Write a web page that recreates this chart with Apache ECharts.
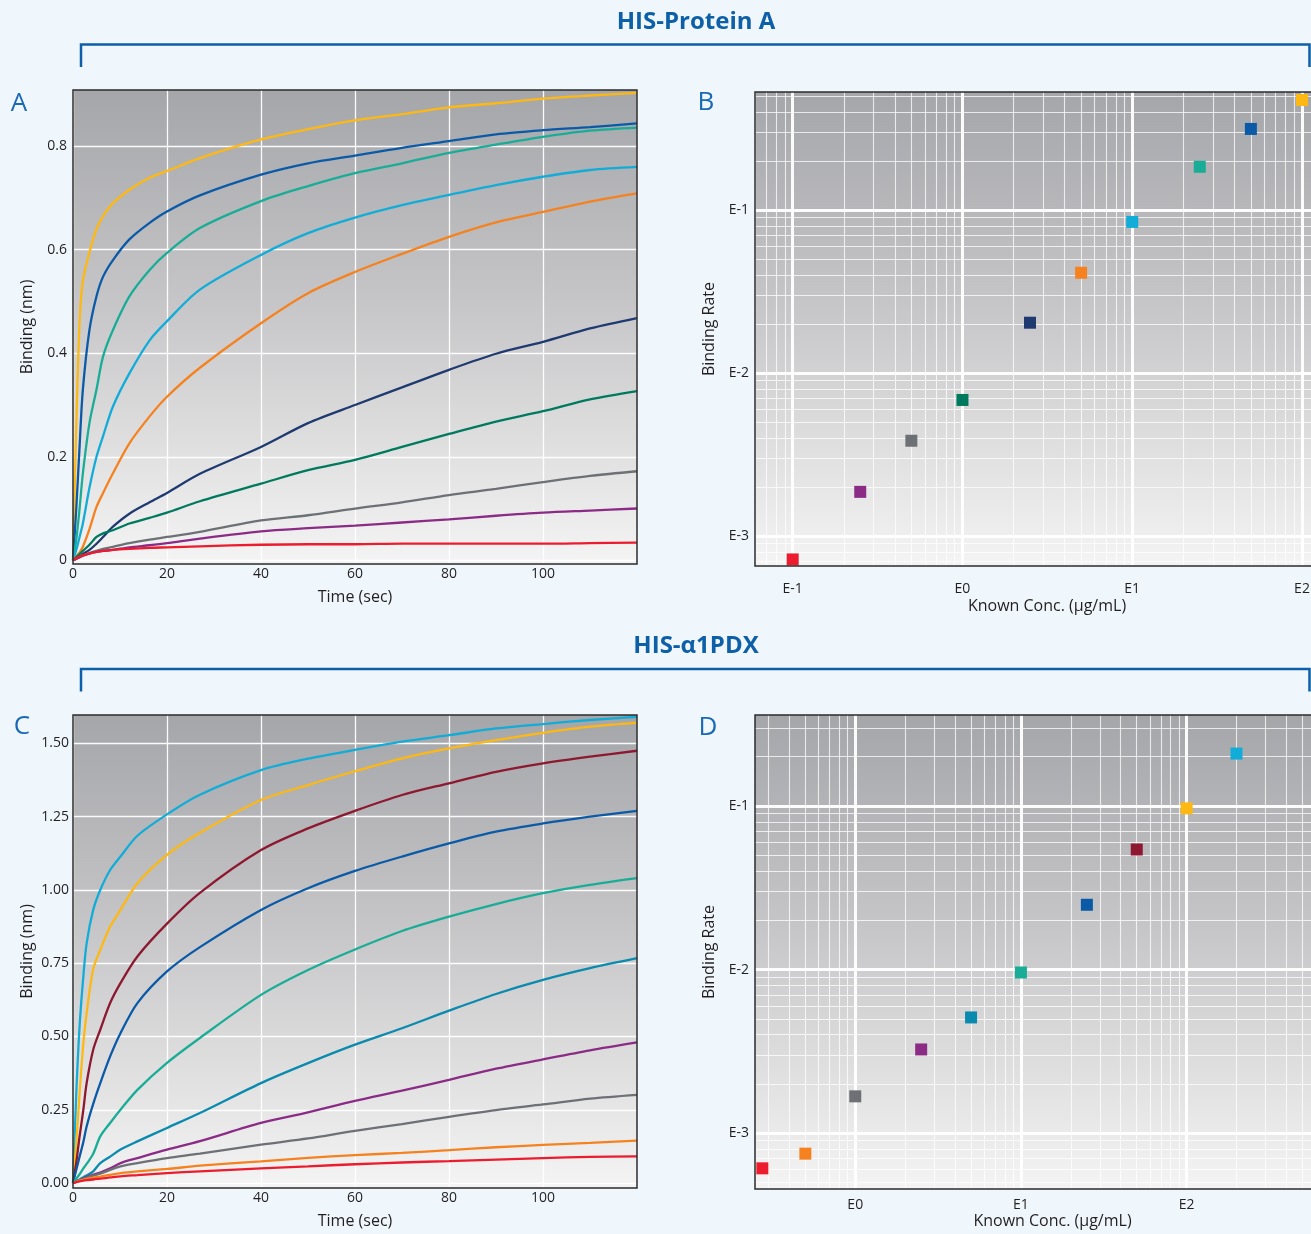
<!DOCTYPE html>
<html><head><meta charset="utf-8">
<style>html,body{margin:0;padding:0;background:#eff7fd;} #c{width:1311px;height:1234px;}</style>
<script src="https://cdn.jsdelivr.net/npm/echarts@6/dist/echarts.min.js"></script>
</head><body><div id="c"></div>
<script>
// ---------- DATA ----------
// Panel A (HIS-Protein A) association curves
const timeA = [0, 0.7, 1.4, 2.1, 3.5, 5, 6.4, 8.5, 12, 16.3, 20, 27, 40, 50, 60, 70, 80, 90, 100, 110, 120];
const yellowA = [0, 0.26, 0.46, 0.54, 0.595, 0.64, 0.665, 0.69, 0.716, 0.739, 0.752, 0.777, 0.813, 0.833, 0.85, 0.862, 0.875, 0.883, 0.892, 0.898, 0.903];
const blueA   = [0, 0.10, 0.22, 0.33, 0.445, 0.51, 0.548, 0.58, 0.62, 0.652, 0.674, 0.705, 0.745, 0.767, 0.782, 0.797, 0.81, 0.823, 0.831, 0.837, 0.844];
const tealA   = [0, 0.04, 0.10, 0.168, 0.265, 0.33, 0.394, 0.445, 0.51, 0.561, 0.594, 0.642, 0.694, 0.723, 0.748, 0.767, 0.787, 0.803, 0.818, 0.83, 0.836];
const cyanA   = [0, 0.02, 0.045, 0.071, 0.14, 0.2, 0.24, 0.297, 0.361, 0.425, 0.462, 0.523, 0.59, 0.632, 0.662, 0.686, 0.706, 0.725, 0.741, 0.754, 0.76];
const orangeA = [0, 0.008, 0.015, 0.026, 0.06, 0.103, 0.13, 0.168, 0.226, 0.278, 0.316, 0.372, 0.458, 0.516, 0.557, 0.592, 0.625, 0.653, 0.673, 0.693, 0.709];
const navyA   = [0, 0.003, 0.007, 0.012, 0.02, 0.032, 0.045, 0.065, 0.09, 0.112, 0.13, 0.167, 0.219, 0.265, 0.3, 0.334, 0.368, 0.399, 0.422, 0.448, 0.468];
const greenA  = [0, 0.006, 0.012, 0.018, 0.03, 0.045, 0.052, 0.058, 0.071, 0.082, 0.092, 0.114, 0.148, 0.174, 0.194, 0.219, 0.244, 0.268, 0.288, 0.311, 0.327];
const grayA   = [0, 0.003, 0.006, 0.009, 0.014, 0.018, 0.022, 0.026, 0.033, 0.04, 0.045, 0.055, 0.077, 0.087, 0.10, 0.112, 0.126, 0.138, 0.151, 0.163, 0.172];
const purpleA = [0, 0.003, 0.006, 0.009, 0.013, 0.016, 0.018, 0.02, 0.025, 0.029, 0.033, 0.042, 0.056, 0.062, 0.067, 0.073, 0.079, 0.086, 0.092, 0.096, 0.10];
const redA    = [0, 0.004, 0.007, 0.01, 0.013, 0.016, 0.018, 0.02, 0.022, 0.024, 0.025, 0.027, 0.03, 0.031, 0.031, 0.032, 0.032, 0.032, 0.032, 0.033, 0.034];

// Panel B (HIS-Protein A) binding rate vs concentration
const concB = [0.1, 0.25, 0.5, 1, 2.5, 5, 10, 25, 50, 100];
const rateB = [7.2e-4, 1.87e-3, 3.85e-3, 6.85e-3, 0.0204, 0.0413, 0.0847, 0.1846, 0.315, 0.474];

// Panel C (HIS-a1PDX) association curves
const timeC = [0, 0.7, 1.4, 2.2, 2.9, 4.3, 5.8, 7.9, 10.1, 13.7, 20, 27, 40, 50, 60, 70, 80, 90, 100, 110, 120];
const cyanC     = [0, 0.307, 0.534, 0.705, 0.818, 0.932, 1.0, 1.068, 1.114, 1.185, 1.258, 1.325, 1.409, 1.448, 1.478, 1.506, 1.528, 1.551, 1.566, 1.58, 1.591];
const yellowC   = [0, 0.136, 0.307, 0.477, 0.58, 0.73, 0.795, 0.875, 0.932, 1.023, 1.12, 1.195, 1.307, 1.358, 1.405, 1.449, 1.483, 1.511, 1.536, 1.557, 1.57];
const darkRedC  = [0, 0.07, 0.159, 0.25, 0.341, 0.455, 0.523, 0.614, 0.682, 0.773, 0.885, 0.99, 1.136, 1.21, 1.27, 1.324, 1.364, 1.403, 1.432, 1.455, 1.475];
const blueC     = [0, 0.045, 0.09, 0.14, 0.193, 0.27, 0.341, 0.432, 0.511, 0.614, 0.722, 0.805, 0.932, 1.006, 1.065, 1.114, 1.159, 1.199, 1.227, 1.25, 1.27];
const tealC     = [0, 0.015, 0.03, 0.05, 0.065, 0.1, 0.159, 0.205, 0.25, 0.318, 0.41, 0.495, 0.642, 0.727, 0.797, 0.86, 0.909, 0.952, 0.989, 1.017, 1.04];
const tealBlueC = [0, 0.006, 0.012, 0.02, 0.026, 0.04, 0.068, 0.09, 0.114, 0.142, 0.188, 0.239, 0.341, 0.409, 0.472, 0.528, 0.588, 0.645, 0.693, 0.733, 0.767];
const purpleC   = [0, 0.005, 0.01, 0.015, 0.02, 0.028, 0.036, 0.05, 0.068, 0.085, 0.114, 0.143, 0.205, 0.241, 0.28, 0.315, 0.352, 0.39, 0.422, 0.453, 0.48];
const grayC     = [0, 0.005, 0.01, 0.014, 0.018, 0.025, 0.032, 0.045, 0.057, 0.068, 0.085, 0.1, 0.131, 0.152, 0.178, 0.201, 0.226, 0.249, 0.268, 0.288, 0.301];
const orangeC   = [0, 0.004, 0.008, 0.011, 0.014, 0.018, 0.022, 0.028, 0.034, 0.04, 0.048, 0.059, 0.074, 0.086, 0.095, 0.103, 0.112, 0.122, 0.13, 0.137, 0.145];
const redC      = [0, 0.003, 0.006, 0.008, 0.01, 0.012, 0.015, 0.019, 0.023, 0.027, 0.034, 0.04, 0.05, 0.057, 0.064, 0.07, 0.075, 0.08, 0.085, 0.089, 0.091];

// Panel D (HIS-a1PDX) binding rate vs concentration
const concD = [0.275, 0.5, 1, 2.5, 5, 10, 25, 50, 100, 200];
const rateD = [6.1e-4, 7.5e-4, 1.68e-3, 3.25e-3, 5.1e-3, 9.6e-3, 0.0249, 0.0542, 0.0967, 0.209];

// Tick labels
const ticksA = [0, 0.2, 0.4, 0.6, 0.8];
const ticksC = [0, 0.25, 0.5, 0.75, 1.0, 1.25, 1.5];
const titles = ['HIS-Protein A', 'HIS-\u03b11PDX'];
const panelLetters = ['A', 'B', 'C', 'D'];

// ---------- STYLE ----------
const C = {
  yellow:'#fdb813', blue:'#0a5aa8', teal:'#19ad97', cyan:'#12acd8', orange:'#f6821f',
  navy:'#1f3a70', green:'#007a5e', gray:'#6d7175', purple:'#8b2b86', red:'#ec1c2e',
  darkRed:'#8d1830', tealBlue:'#0a8aae'
};
const linesA = [[yellowA,C.yellow],[blueA,C.blue],[tealA,C.teal],[cyanA,C.cyan],[orangeA,C.orange],[navyA,C.navy],[greenA,C.green],[grayA,C.gray],[purpleA,C.purple],[redA,C.red]];
const linesC = [[cyanC,C.cyan],[yellowC,C.yellow],[darkRedC,C.darkRed],[blueC,C.blue],[tealC,C.teal],[tealBlueC,C.tealBlue],[purpleC,C.purple],[grayC,C.gray],[orangeC,C.orange],[redC,C.red]];
const colorsB = [C.red,C.purple,C.gray,C.green,C.navy,C.orange,C.cyan,C.teal,C.blue,C.yellow];
const colorsD = [C.red,C.orange,C.gray,C.purple,C.tealBlue,C.teal,C.blue,C.darkRed,C.yellow,C.cyan];

const FONT = '"Open Sans", "Noto Sans", sans-serif';
const BLUE_T = '#0d5fa8';
const TXT = '#231f20';

const G = [
  {left:73,  top:90,  width:564, height:474},   // A
  {left:755, top:92,  width:584, height:474},   // B
  {left:73,  top:715, width:564, height:473},   // C
  {left:755, top:715, width:595, height:474}    // D
];
const logRange = {
  Bx:[-1.222, 2.218], By:[-3.183, -0.275],
  Dx:[-0.605, 2.986], Dy:[-3.341, -0.444]
};
const p10 = e => Math.pow(10, e);

const bg = () => new echarts.graphic.LinearGradient(0,0,0,1,[
  {offset:0, color:'#a5a6aa'},{offset:0.45, color:'#c6c6c8'},{offset:1, color:'#f4f4f4'}]);

const grids = G.map(g => ({...g, show:true, backgroundColor:bg(), borderWidth:0, containLabel:false, outerBoundsMode:'none'}));

const whiteGrid = {show:true, lineStyle:{color:'rgba(255,255,255,0.95)', width:1.3}};
const labelStyle = {color:TXT, fontFamily:FONT, fontSize:14};
const nameStyle = {color:TXT, fontFamily:FONT, fontSize:16};

const isPow = v => { const l = Math.log10(v); return Math.abs(l - Math.round(l)) < 1e-6; };
const logFmt = v => isPow(v) ? 'E' + Math.round(Math.log10(v)) : '';

const xAxes = [
  {gridIndex:0, type:'value', min:0, max:120, interval:20, axisLine:{show:false}, axisTick:{show:false},
   axisLabel:{...labelStyle, margin:3, formatter:v => v >= 120 ? '' : String(v)}, splitLine:whiteGrid,
   name:'Time (sec)', nameLocation:'middle', nameGap:25, nameTextStyle:nameStyle},
  {gridIndex:1, type:'log', min:p10(logRange.Bx[0]), max:p10(logRange.Bx[1]), axisLine:{show:false}, axisTick:{show:false},
   axisLabel:{...labelStyle, margin:16, formatter:logFmt}, splitLine:{show:false},
   name:'Known Conc. (\u00b5g/mL)', nameLocation:'middle', nameGap:32, nameTextStyle:nameStyle},
  {gridIndex:2, type:'value', min:0, max:120, interval:20, axisLine:{show:false}, axisTick:{show:false},
   axisLabel:{...labelStyle, margin:3, formatter:v => v >= 120 ? '' : String(v)}, splitLine:whiteGrid,
   name:'Time (sec)', nameLocation:'middle', nameGap:25, nameTextStyle:nameStyle},
  {gridIndex:3, type:'log', min:p10(logRange.Dx[0]), max:p10(logRange.Dx[1]), axisLine:{show:false}, axisTick:{show:false},
   axisLabel:{...labelStyle, margin:9, formatter:logFmt}, splitLine:{show:false},
   name:'Known Conc. (\u00b5g/mL)', nameLocation:'middle', nameGap:24, nameTextStyle:nameStyle}
];
const yAxes = [
  {gridIndex:0, type:'value', min:-0.0072, max:0.9086, axisLine:{show:false},
   axisTick:{show:false, customValues:ticksA},
   axisLabel:{...labelStyle, margin:6, customValues:ticksA, formatter:v => {
     const k = v*5; return Math.abs(k-Math.round(k))<1e-6 ? (Math.abs(v)<1e-9 ? '0' : v.toFixed(1)) : ''; }},
   splitLine:whiteGrid, name:'Binding (nm)', nameLocation:'middle', nameGap:38, nameTextStyle:nameStyle},
  {gridIndex:1, type:'log', min:p10(logRange.By[0]), max:p10(logRange.By[1]), axisLine:{show:false}, axisTick:{show:false},
   axisLabel:{...labelStyle, margin:6, formatter:logFmt}, splitLine:{show:false},
   name:'Binding Rate', nameLocation:'middle', nameGap:38, nameTextStyle:nameStyle},
  {gridIndex:2, type:'value', min:-0.017, max:1.597, axisLine:{show:false},
   axisTick:{show:false, customValues:ticksC},
   axisLabel:{...labelStyle, margin:4, customValues:ticksC, formatter:v => {
     const k = v*4; return Math.abs(k-Math.round(k))<1e-6 ? v.toFixed(2) : ''; }},
   splitLine:whiteGrid, name:'Binding (nm)', nameLocation:'middle', nameGap:38, nameTextStyle:nameStyle},
  {gridIndex:3, type:'log', min:p10(logRange.Dy[0]), max:p10(logRange.Dy[1]), axisLine:{show:false}, axisTick:{show:false},
   axisLabel:{...labelStyle, margin:6, formatter:logFmt}, splitLine:{show:false},
   name:'Binding Rate', nameLocation:'middle', nameGap:38, nameTextStyle:nameStyle}
];

const series = [];
linesA.forEach(([arr,col]) => series.push({type:'line', xAxisIndex:0, yAxisIndex:0, data:timeA.map((t,i)=>[t,arr[i]]),
  smooth:0.3, symbol:'none', lineStyle:{color:col, width:2.3}, z:3, silent:true}));
linesC.forEach(([arr,col]) => series.push({type:'line', xAxisIndex:2, yAxisIndex:2, data:timeC.map((t,i)=>[t,arr[i]]),
  smooth:0.3, symbol:'none', lineStyle:{color:col, width:2.3}, z:3, silent:true}));

// log-grid lines (decades and 2..9 subdivisions) for B and D
function logLines(xIdx, rx, ry) {
  const major = [], minor = [];
  const ymin = p10(ry[0]), ymax = p10(ry[1]), xmin = p10(rx[0]), xmax = p10(rx[1]);
  for (let e = Math.floor(rx[0]); e <= Math.ceil(rx[1]); e++) for (let k = 1; k <= 9; k++) {
    const v = k * p10(e); if (v <= xmin || v >= xmax) continue;
    (k === 1 ? major : minor).push({coords:[[v, ymin],[v, ymax]]});
  }
  for (let e = Math.floor(ry[0]); e <= Math.ceil(ry[1]); e++) for (let k = 1; k <= 9; k++) {
    const v = k * p10(e); if (v <= ymin || v >= ymax) continue;
    (k === 1 ? major : minor).push({coords:[[xmin, v],[xmax, v]]});
  }
  series.push({type:'lines', coordinateSystem:'cartesian2d', xAxisIndex:xIdx, yAxisIndex:xIdx, data:minor, silent:true, z:1,
    lineStyle:{color:'rgba(255,255,255,0.75)', width:1.1, opacity:1}, effect:{show:false}, animation:false});
  series.push({type:'lines', coordinateSystem:'cartesian2d', xAxisIndex:xIdx, yAxisIndex:xIdx, data:major, silent:true, z:1,
    lineStyle:{color:'rgba(255,255,255,0.95)', width:3, opacity:1}, effect:{show:false}, animation:false});
}
logLines(1, logRange.Bx, logRange.By);
logLines(3, logRange.Dx, logRange.Dy);

series.push({type:'scatter', xAxisIndex:1, yAxisIndex:1, symbol:'rect', symbolSize:12, z:4, silent:true,
  data:concB.map((c,i)=>({value:[c, rateB[i]], itemStyle:{color:colorsB[i], opacity:1}}))});
series.push({type:'scatter', xAxisIndex:3, yAxisIndex:3, symbol:'rect', symbolSize:12, z:4, silent:true,
  data:concD.map((c,i)=>({value:[c, rateD[i]], itemStyle:{color:colorsD[i], opacity:1}}))});

// ---------- GRAPHICS (titles, brackets, letters, frames) ----------
const graphic = [];
const titleY = [22, 646], bracketY = [44.5, 669];
titles.forEach((t, i) => {
  graphic.push({type:'text', x:696, y:titleY[i], z:50, style:{text:t, fill:BLUE_T, fontSize:24, fontWeight:'bold',
    fontFamily:'"Liberation Sans Narrow", "Open Sans", sans-serif', align:'center', verticalAlign:'middle'}});
  graphic.push({type:'polyline', z:50, shape:{points:[[81, bracketY[i]+22.5],[81, bracketY[i]],[1309.5, bracketY[i]],[1309.5, bracketY[i]+22.5]]},
    style:{stroke:BLUE_T, lineWidth:2.5, fill:null}});
});
const letterPos = [[19,104],[706,103],[22,727],[708,728]];
panelLetters.forEach((l, i) => graphic.push({type:'text', x:letterPos[i][0], y:letterPos[i][1], z:50,
  style:{text:l, fill:'#1a69b3', fontSize:26, fontFamily:FONT, align:'center', verticalAlign:'middle'}}));
G.forEach(g => graphic.push({type:'rect', z:60, silent:true, shape:{x:g.left, y:g.top, width:g.width, height:g.height},
  style:{fill:null, stroke:'#2b2b2b', lineWidth:1.5}}));

const chart = echarts.init(document.getElementById('c'), null, {renderer:'canvas'});
chart.setOption({
  backgroundColor:'#eff7fd',
  animation:false,
  grid:grids, xAxis:xAxes, yAxis:yAxes, series, graphic
});
</script></body></html>
